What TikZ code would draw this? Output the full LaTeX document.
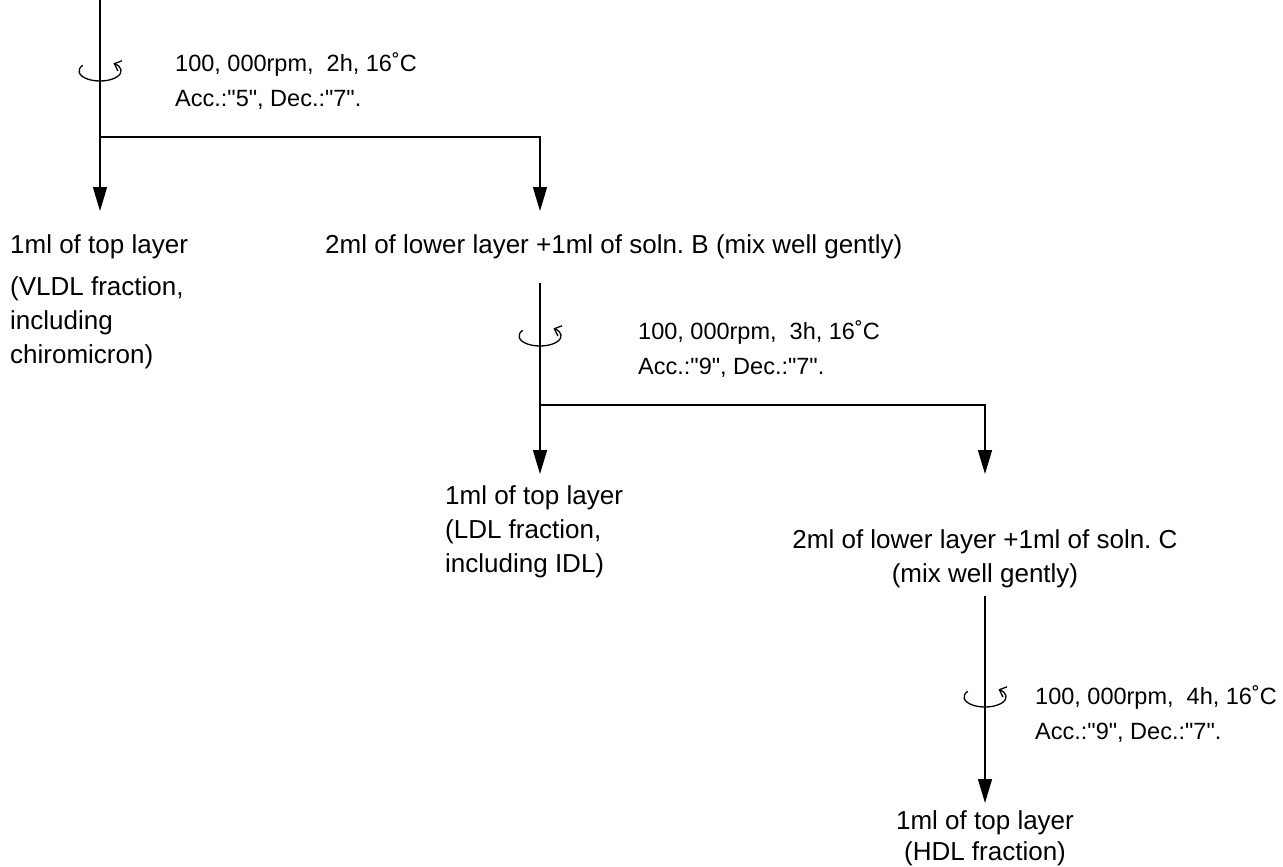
\documentclass[tikz,border=0pt]{standalone}
\usepackage{fontspec}
\setmainfont{Liberation Sans}[Ligatures=TeXOff]
\usetikzlibrary{arrows.meta,positioning}

\begin{document}
\begin{tikzpicture}[
    x=1pt, y=-1pt,
    fractext/.style={font=\fontsize{26}{34}\selectfont, inner sep=0pt, outer ysep=24pt},
    spintext/.style={font=\fontsize{23.5}{35}\selectfont, inner sep=0pt, align=left, anchor=north west},
    flow/.style={-{Triangle[length=24pt,width=14pt]}, line width=1.4pt},
    spinarrow/.style={-{Straight Barb[length=6pt,width=11pt]}, line width=1.3pt}
  ]
    \useasboundingbox (0,0) rectangle (1283,867);

    % first run
    \coordinate (start) at (100,0);
    \coordinate (spin1) at (100,71);
    \coordinate (split1) at (100,137);
    \coordinate (turn1) at (540,137);

    \node[spintext, below right=-19pt and 75pt of spin1] (run1) {100, 000rpm,\ \ 2h, 16˚C\\Acc.:"5", Dec.:"7".};
    \node[fractext, anchor=north west, align=left] (vldl) at (10,211) {1ml of top layer\\[8pt](VLDL fraction,\\including\\chiromicron)};
    \node[fractext, anchor=north west] (mixb) at (325,211) {2ml of lower layer +1ml of soln.\ B (mix well gently)};

    \draw[flow] (start) -- (vldl.north -| start);
    \draw[flow] (split1) -- (turn1) -- (turn1 |- vldl.north);
    \draw[spinarrow] ([shift={(215:21 and 10)}]spin1) arc[start angle=215, end angle=-50, x radius=21, y radius=10];

    % second run
    \coordinate (spin2) at (540,336);
    \coordinate (split2) at (540,405);
    \coordinate (turn2) at (985,405);

    \node[spintext, below right=-16pt and 98pt of spin2] (run2) {100, 000rpm,\ \ 3h, 16˚C\\Acc.:"9", Dec.:"7".};
    \node[fractext, anchor=north west, align=left, outer ysep=12pt] (ldl) at (445,474) {1ml of top layer\\(LDL fraction,\\including IDL)};
    \node[fractext, anchor=north, align=center, outer ysep=8pt] (mixc) at (985,522) {2ml of lower layer +1ml of soln.\ C\\(mix well gently)};

    \draw[flow] (mixb.south -| spin2) -- (ldl.north -| spin2);
    \draw[flow] (split2) -- (turn2) -- (turn2 |- ldl.north);
    \draw[spinarrow] ([shift={(215:21 and 10)}]spin2) arc[start angle=215, end angle=-50, x radius=21, y radius=10];

    % third run
    \coordinate (spin3) at (985,697);

    \node[spintext, below right=-12pt and 50pt of spin3] (run3) {100, 000rpm,\ \ 4h, 16˚C\\Acc.:"9", Dec.:"7".};
    \node[fractext, anchor=north, align=center, outer ysep=8pt, font=\fontsize{26}{31}\selectfont] (hdl) at (985,803) {1ml of top layer\\(HDL fraction)};

    \draw[flow] (mixc.south) -- (hdl.north);
    \draw[spinarrow] ([shift={(215:21 and 10)}]spin3) arc[start angle=215, end angle=-50, x radius=21, y radius=10];
\end{tikzpicture}
\end{document}
